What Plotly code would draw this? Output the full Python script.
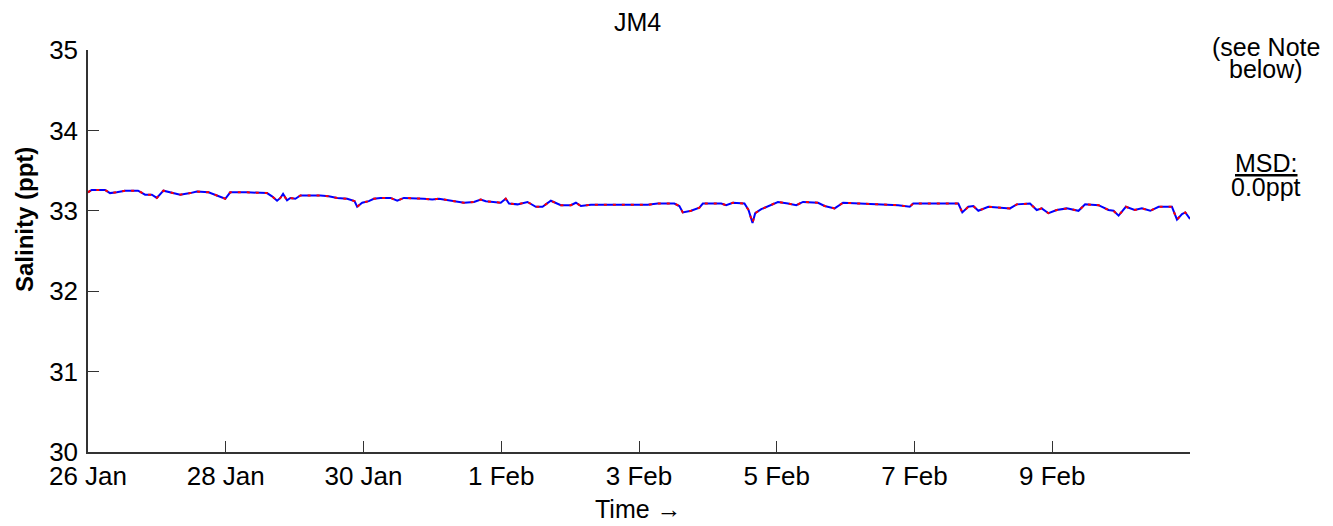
import pandas as pd
import plotly.graph_objects as go

# ---- data ----
start_date = "2009-01-26"
day_offsets = [0.000, 0.054, 0.247, 0.320, 0.417, 0.538, 0.727, 0.829, 0.927, 0.999,
               1.095, 1.193, 1.338, 1.484, 1.581, 1.750, 1.872, 1.993, 2.065, 2.308,
               2.599, 2.672, 2.745, 2.793, 2.832, 2.890, 2.938, 3.011, 3.084, 3.375,
               3.495, 3.618, 3.763, 3.869, 3.908, 3.981, 4.077, 4.150, 4.247, 4.393,
               4.490, 4.586, 4.877, 4.999, 5.095, 5.265, 5.459, 5.604, 5.702, 5.775,
               5.993, 6.065, 6.113, 6.236, 6.381, 6.502, 6.599, 6.720, 6.865, 7.011,
               7.084, 7.156, 7.302, 7.738, 8.126, 8.272, 8.513, 8.586, 8.636, 8.756,
               8.877, 8.927, 9.193, 9.265, 9.363, 9.531, 9.590, 9.648, 9.687, 9.775,
               9.920, 10.017, 10.163, 10.284, 10.381, 10.599, 10.695, 10.840, 10.963, 11.277,
               11.422, 11.665, 11.763, 11.931, 11.981, 12.441, 12.636, 12.694, 12.781, 12.854,
               12.927, 13.072, 13.265, 13.386, 13.484, 13.677, 13.775, 13.847, 13.945, 14.065,
               14.211, 14.381, 14.477, 14.672, 14.817, 14.890, 14.963, 15.069, 15.197, 15.302,
               15.423, 15.545, 15.738, 15.811, 15.884, 15.932, 16.000]
salinity_obs = [33.23, 33.26, 33.26, 33.22, 33.23, 33.25, 33.25, 33.20, 33.20, 33.16,
                33.25, 33.23, 33.20, 33.22, 33.24, 33.23, 33.19, 33.15, 33.23, 33.23,
                33.22, 33.18, 33.125, 33.16, 33.21, 33.13, 33.16, 33.15, 33.19, 33.19,
                33.18, 33.16, 33.15, 33.12, 33.05, 33.10, 33.12, 33.15, 33.16, 33.16,
                33.125, 33.16, 33.15, 33.14, 33.15, 33.125, 33.10, 33.11, 33.14, 33.12,
                33.10, 33.15, 33.09, 33.08, 33.11, 33.05, 33.05, 33.125, 33.07, 33.07,
                33.10, 33.06, 33.075, 33.075, 33.075, 33.09, 33.09, 33.06, 32.98, 33.00,
                33.04, 33.09, 33.09, 33.07, 33.10, 33.09, 33.01, 32.85, 32.97, 33.02,
                33.07, 33.11, 33.09, 33.07, 33.11, 33.10, 33.06, 33.03, 33.10, 33.09,
                33.09, 33.075, 33.07, 33.05, 33.09, 33.09, 33.09, 32.98, 33.05, 33.06,
                33.00, 33.05, 33.04, 33.03, 33.08, 33.09, 33.01, 33.03, 32.97, 33.01,
                33.03, 33.00, 33.08, 33.07, 33.01, 33.00, 32.94, 33.05, 33.01, 33.03,
                33.00, 33.05, 33.05, 32.89, 32.96, 32.98, 32.90]
salinity_model = list(salinity_obs)

x_tick_dates = ["2009-01-26", "2009-01-28", "2009-01-30", "2009-02-01",
                "2009-02-03", "2009-02-05", "2009-02-07", "2009-02-09"]
x_tick_labels = ["26 Jan", "28 Jan", "30 Jan", "1 Feb", "3 Feb", "5 Feb", "7 Feb", "9 Feb"]
x_range = ["2009-01-26", "2009-02-11"]
y_ticks = [30, 31, 32, 33, 34, 35]
y_range = [30, 35]

times = pd.Timestamp(start_date) + pd.to_timedelta(day_offsets, unit="D")

FONT = "Liberation Sans, Arial, sans-serif"
FS_TICK = 26
FS = 25

fig = go.Figure()
fig.add_trace(go.Scatter(x=times, y=salinity_obs, mode="lines",
                         line=dict(color="#0000FF", width=2), showlegend=False))
fig.add_trace(go.Scatter(x=times, y=salinity_model, mode="lines",
                         line=dict(color="#FF0000", width=2, dash="3px,6px"), showlegend=False))

axis_common = dict(ticks="inside", ticklen=11, tickwidth=1, tickcolor="#333333",
                   showline=True, linecolor="#333333", linewidth=1.5,
                   showgrid=False, zeroline=False, mirror=False,
                   tickfont=dict(family=FONT, size=FS_TICK, color="black"))

fig.update_xaxes(type="date", range=x_range, tickvals=x_tick_dates, ticktext=x_tick_labels,
                 **axis_common)
fig.update_yaxes(range=y_range, tickvals=y_ticks, ticklabelstandoff=3, **axis_common)

# the page body has an 8px margin, so the figure is drawn 8px right/down
OFF = 8
W, H = 1333 - OFF, 526 - OFF
ml, mr, mt, mb = 88 - OFF, 143, 50 - OFF, 74
pw, ph = W - ml - mr, H - mt - mb


def px_x(p):  # screen pixel -> paper x
    return (p - OFF - ml) / pw


def px_y(p):  # screen pixel -> paper y
    return (H - mb - (p - OFF)) / ph


ann = []
ann.append(dict(text="JM4", x=px_x(637), y=px_y(22)))
ann.append(dict(text="Time \u2192", x=px_x(638), y=px_y(509)))
ann.append(dict(text="<b>Salinity (ppt)</b>", x=px_x(25), y=px_y(220), textangle=-90))
ann.append(dict(text="(see Note", x=px_x(1266), y=px_y(47)))
ann.append(dict(text="below)", x=px_x(1266), y=px_y(69)))
ann.append(dict(text="<u>MSD:</u>", x=px_x(1266), y=px_y(163)))
ann.append(dict(text="0.0ppt", x=px_x(1266), y=px_y(187)))
for a in ann:
    a.update(xref="paper", yref="paper", showarrow=False, xanchor="center", yanchor="middle",
             font=dict(family=FONT, size=FS, color="black"))
ann[2]["font"]["size"] = 24

fig.update_layout(
    width=W, height=H,
    margin=dict(l=ml, r=mr, t=mt, b=mb, pad=0),
    paper_bgcolor="white", plot_bgcolor="white",
    annotations=ann,
    shapes=[dict(type="line", xref="paper", yref="paper",
                 x0=px_x(1330.5), x1=px_x(1330.5), y0=px_y(517), y1=px_y(9),
                 line=dict(color="black", width=4), layer="above")],
)

fig.write_html("out.html")
